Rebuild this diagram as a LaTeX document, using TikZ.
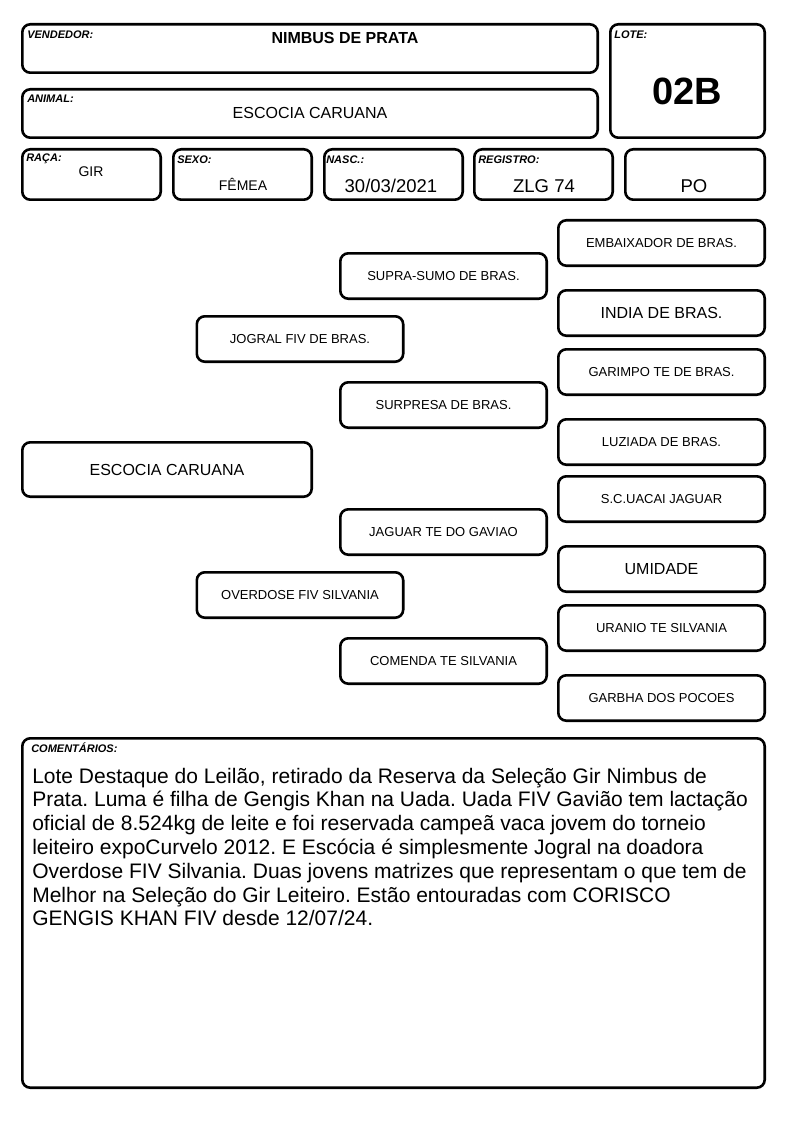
\documentclass[tikz,border=0pt]{standalone}
\usepackage{fontspec}
\setmainfont{Liberation Sans}
\newcommand{\fs}[1]{\fontsize{#1}{1.2\dimexpr#1pt\relax}\selectfont}
\frenchspacing
\begin{document}
\begin{tikzpicture}[x=1pt, y=-1pt, line width=2.6pt,
  card/.style={rectangle, draw, rounded corners=8pt, inner sep=0pt},
  ped node/.style={card, minimum width=206.4pt, minimum height=45.4pt, font=\fs{13}},
  tag/.style={anchor=west, inner sep=0pt, font=\fs{11}\bfseries\itshape}]
\useasboundingbox (0,0) rectangle (794,1123);
% header
\node [card, minimum width=575.4pt, minimum height=48.4pt] (vend) at (310,48.5) {};
\node [card, minimum width=575.4pt, minimum height=48.4pt] (anim) at (310,113.5) {};
\node [card, minimum width=154.4pt, minimum height=113.4pt] (lote) at (687.5,81) {};
\node [card, minimum width=138.4pt, minimum height=50.4pt] (raca) at (91.5,174.5) {};
\node [card, minimum width=138.4pt, minimum height=50.4pt] (sexo) at (242.5,174.5) {};
\node [card, minimum width=138.4pt, minimum height=50.4pt] (nasc) at (393.5,174.5) {};
\node [card, minimum width=138.4pt, minimum height=50.4pt] (reg) at (543.5,174.5) {};
\node [card, minimum width=139.4pt, minimum height=50.4pt] (tipo) at (695,174.5) {};
\node [tag] (vendl) at (26,35) {VENDEDOR:};
\node [tag] (animl) at (26,99) {ANIMAL:};
\node [tag] (lotel) at (613,35) {LOTE:};
\node [tag] (racal) at (25,159) {RAÇA:};
\node [tag] (sexol) at (176,160) {SEXO:};
\node [tag] (nascl) at (325,160) {NASC.:};
\node [tag] (regl) at (477,160) {REGISTRO:};
\begin{scope}[every node/.style={inner sep=0pt}]
\node [font=\fs{16}\bfseries] (vendt) at (345,38) {NIMBUS DE PRATA};
\node [font=\fs{16}] (animt) at (310,113) {ESCOCIA CARUANA};
\node [font=\fs{38}\bfseries] (lotet) at (687,91) {02B};
\node [font=\fs{14}] (racat) at (91,172) {GIR};
\node [font=\fs{14}] (sexot) at (243,184) {FÊMEA};
\node [font=\fs{18.5}] (nasct) at (391,186) {30/03/2021};
\node [font=\fs{18.5}] (regt) at (544,186) {ZLG 74};
\node [font=\fs{18.5}] (tipot) at (694,186) {PO};
\end{scope}
% pedigree
\node [card, minimum width=289.4pt, minimum height=54.4pt, font=\fs{16}] (a) at (167,469.5) {ESCOCIA CARUANA};
\node [ped node] (p1) at (300,339) {JOGRAL FIV DE BRAS.};
\node [ped node] (p2) at (300,595) {OVERDOSE FIV SILVANIA};
\node [ped node] (g1) at (443.5,276) {SUPRA-SUMO DE BRAS.};
\node [ped node] (g2) at (443.5,405) {SURPRESA DE BRAS.};
\node [ped node] (g3) at (443.5,532) {JAGUAR TE DO GAVIAO};
\node [ped node] (g4) at (443.5,661) {COMENDA TE SILVANIA};
\node [ped node] (b1) at (661.5,243) {EMBAIXADOR DE BRAS.};
\node [ped node, font=\fs{16}] (b2) at (661.5,313) {INDIA DE BRAS.};
\node [ped node] (b3) at (661.5,372) {GARIMPO TE DE BRAS.};
\node [ped node] (b4) at (661.5,442) {LUZIADA DE BRAS.};
\node [ped node] (b5) at (661.5,499) {S.C.UACAI JAGUAR};
\node [ped node, font=\fs{16}] (b6) at (661.5,569) {UMIDADE};
\node [ped node] (b7) at (661.5,628) {URANIO TE SILVANIA};
\node [ped node] (b8) at (661.5,698) {GARBHA DOS POCOES};
% comments
\node [card, minimum width=742.4pt, minimum height=349.4pt] (com) at (393.5,913) {};
\node [tag] (coml) at (30,748) {COMENTÁRIOS:};
\node [anchor=north west, inner sep=0pt, align=left, font=\fontsize{21}{23.8}\selectfont] (comt) at (31,766.5)
  {Lote Destaque do Leilão, retirado da Reserva da Seleção Gir Nimbus de\\
   Prata. Luma é filha de Gengis Khan na Uada. Uada FIV Gavião tem lactação\\
   oficial de 8.524kg de leite e foi reservada campeã vaca jovem do torneio\\
   leiteiro expoCurvelo 2012. E Escócia é simplesmente Jogral na doadora\\
   Overdose FIV Silvania. Duas jovens matrizes que representam o que tem de\\
   Melhor na Seleção do Gir Leiteiro. Estão entouradas com CORISCO\\
   GENGIS KHAN FIV desde 12/07/24.};
\end{tikzpicture}
\end{document}
